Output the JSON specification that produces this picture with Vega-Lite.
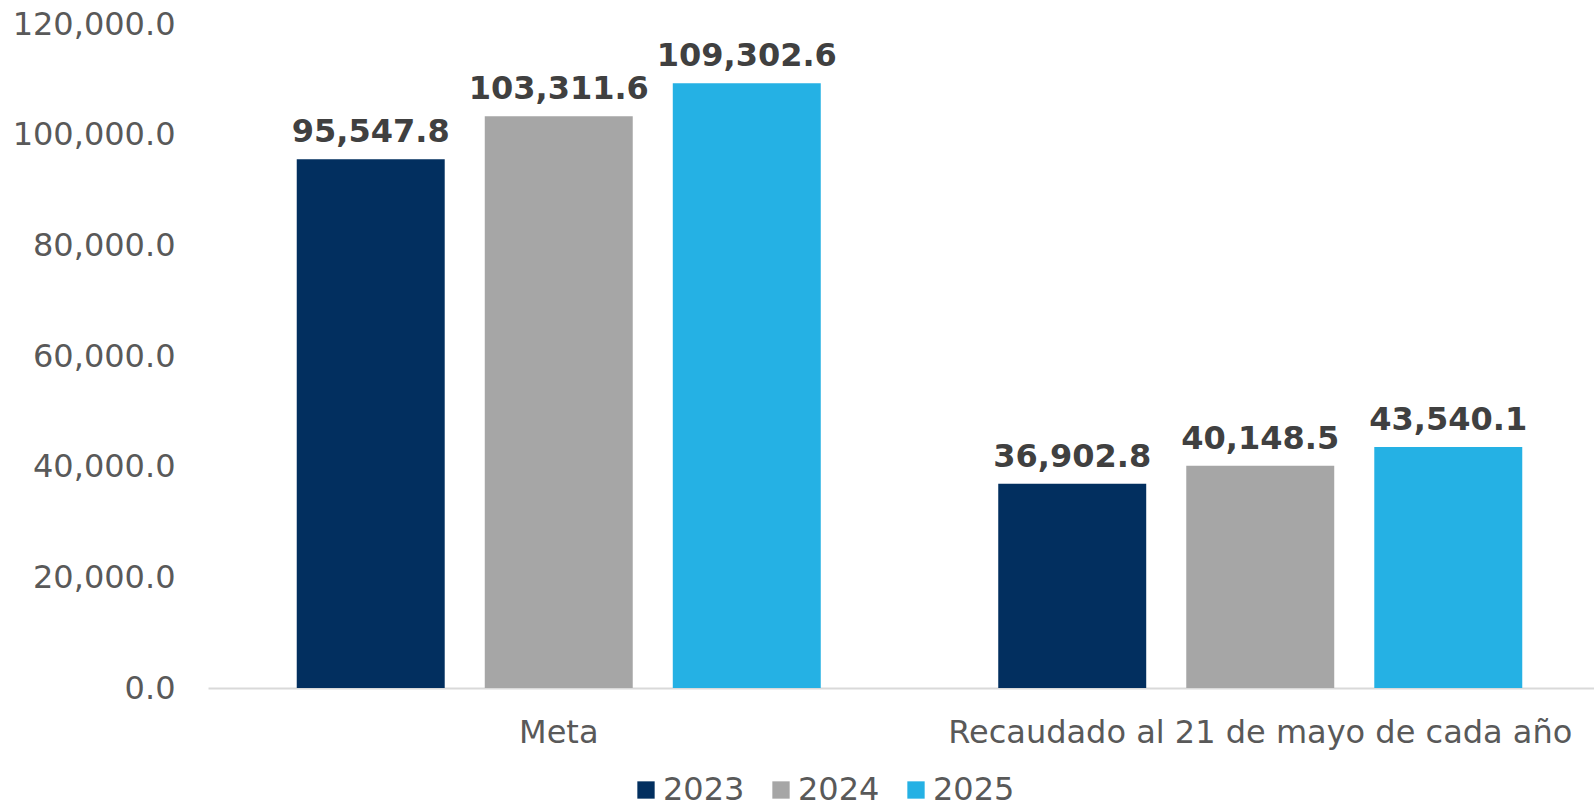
{
  "$schema": "https://vega.github.io/schema/vega-lite/v6.json",
  "width": 1386,
  "height": 664,
  "autosize": {"type": "none"},
  "padding": {"left": 208, "top": 24, "right": 0, "bottom": 121},
  "background": "white",
  "config": {"view": {"stroke": null}, "font": "DejaVu Sans"},
  "data": {
    "values": [
      {"categoria": "Meta", "anio": "2023", "valor": 95547.8},
      {"categoria": "Meta", "anio": "2024", "valor": 103311.6},
      {"categoria": "Meta", "anio": "2025", "valor": 109302.6},
      {"categoria": "Recaudado al 21 de mayo de cada año", "anio": "2023", "valor": 36902.8},
      {"categoria": "Recaudado al 21 de mayo de cada año", "anio": "2024", "valor": 40148.5},
      {"categoria": "Recaudado al 21 de mayo de cada año", "anio": "2025", "valor": 43540.1}
    ]
  },
  "encoding": {
    "x": {
      "field": "categoria",
      "type": "nominal",
      "sort": ["Meta", "Recaudado al 21 de mayo de cada año"],
      "scale": {"range": [0, 1403], "paddingInner": 0, "paddingOuter": 0},
      "axis": {
        "title": null,
        "labelAngle": 0,
        "labelFontSize": 32,
        "labelColor": "#595959",
        "labelPadding": 29,
        "labelLimit": 1000,
        "ticks": false,
        "domainColor": "#D9D9D9",
        "domainWidth": 2,
        "grid": false
      }
    },
    "xOffset": {
      "field": "anio",
      "type": "nominal",
      "scale": {"paddingInner": 0.213, "paddingOuter": 0.472}
    },
    "y": {
      "field": "valor",
      "type": "quantitative",
      "scale": {"domain": [0, 120000]},
      "axis": {
        "title": null,
        "values": [0, 20000, 40000, 60000, 80000, 100000, 120000],
        "format": ",.1f",
        "labelFontSize": 32,
        "labelColor": "#595959",
        "labelPadding": 33,
        "domain": false,
        "ticks": false,
        "grid": false
      }
    }
  },
  "layer": [
    {
      "mark": {"type": "bar"},
      "encoding": {
        "color": {
          "field": "anio",
          "type": "nominal",
          "scale": {"domain": ["2023", "2024", "2025"], "range": ["#022F5F", "#A6A6A6", "#25B1E4"]},
          "legend": {
            "title": null,
            "orient": "none",
            "direction": "horizontal",
            "legendX": 422,
            "legendY": 750,
            "symbolType": "square",
            "symbolSize": 300,
            "symbolStrokeWidth": 0,
            "labelFontSize": 32,
            "labelColor": "#595959",
            "labelOffset": 1,
            "columnPadding": 20
          }
        }
      }
    },
    {
      "mark": {
        "type": "text",
        "fontSize": 32,
        "fontWeight": "bold",
        "color": "#404040",
        "baseline": "alphabetic",
        "align": "center",
        "dy": -17
      },
      "encoding": {
        "text": {"field": "valor", "type": "quantitative", "format": ",.1f"}
      }
    }
  ]
}
